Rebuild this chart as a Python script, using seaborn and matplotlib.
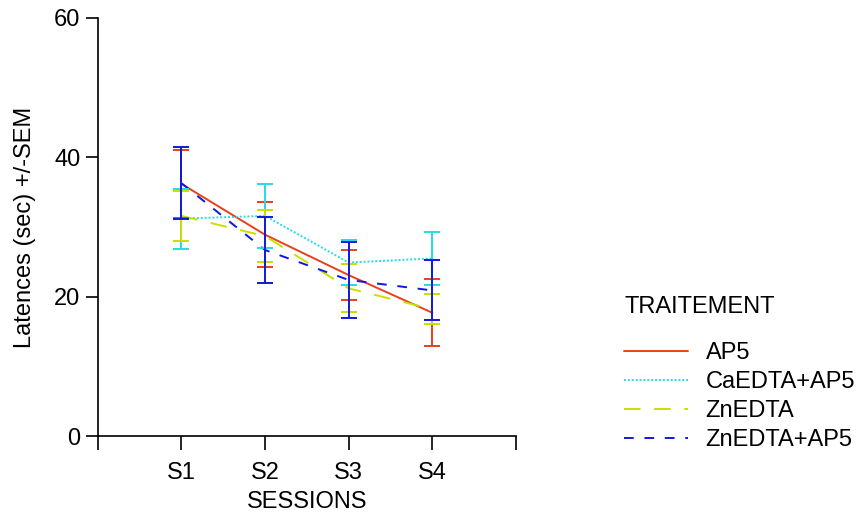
import matplotlib
matplotlib.use("Agg")
import matplotlib.pyplot as plt
import seaborn as sns
import pandas as pd
from matplotlib.lines import Line2D

sessions = ["S1", "S2", "S3", "S4"]
session_pos = [1, 2, 3, 4]
groups = ["AP5", "CaEDTA+AP5", "ZnEDTA", "ZnEDTA+AP5"]

mean_ap5 = [36.2, 28.9, 23.1, 17.7]
sem_ap5 = [4.9, 4.7, 3.6, 4.8]
mean_caedta = [31.2, 31.6, 24.9, 25.5]
sem_caedta = [4.3, 4.6, 3.2, 3.85]
mean_znedta = [31.6, 28.7, 21.2, 18.2]
sem_znedta = [3.6, 3.7, 3.45, 2.15]
mean_znap5 = [36.3, 26.7, 22.4, 20.9]
sem_znap5 = [5.2, 4.7, 5.5, 4.3]

means = [mean_ap5, mean_caedta, mean_znedta, mean_znap5]
sems = [sem_ap5, sem_caedta, sem_znedta, sem_znap5]

colors = ["#E8401A", "#22DDE8", "#C8E000", "#1018E0"]
dashes = [(None, None), (1.0, 1.0), (8.5, 7.0), (5.0, 5.5)]

rows = []
for g, m in zip(groups, means):
    for p, v in zip(session_pos, m):
        rows.append({"TRAITEMENT": g, "session": p, "latence": v})
df = pd.DataFrame(rows)

sns.set_theme(style="ticks")
plt.rcParams["font.family"] = ["Liberation Sans", "DejaVu Sans"]
plt.rcParams["text.color"] = "black"
plt.rcParams["axes.labelcolor"] = "black"
plt.rcParams["xtick.color"] = "black"
plt.rcParams["ytick.color"] = "black"
FS = 17

fig = plt.figure(figsize=(8.65, 5.21), dpi=100)
ax = fig.add_axes([0.113, 0.163, 0.4835, 0.8025])

lw = 1.4
for g, m, s, c, d in zip(groups, means, sems, colors, dashes):
    sub = df[df["TRAITEMENT"] == g]
    sns.lineplot(data=sub, x="session", y="latence", ax=ax, color=c,
                 linewidth=lw, legend=False, errorbar=None)
    ln = ax.lines[-1]
    if d[0] is not None:
        ln.set_dashes(d)
for g, m, s, c in zip(groups, means, sems, colors):
    ax.errorbar(session_pos, m, yerr=s, fmt="none", ecolor=c, elinewidth=lw,
                capsize=5.5, capthick=lw, zorder=3)

ax.set_xlim(0, 5)
ax.set_ylim(0, 60)
ax.set_xticks([0, 1, 2, 3, 4, 5])
ax.set_xticklabels([""] + sessions + [""])
ax.set_yticks([0, 20, 40, 60])
ax.tick_params(axis="both", direction="out", width=1.2,
               labelsize=FS, colors="black", labelcolor="black")
ax.tick_params(axis="y", length=8.5, pad=4)
ax.tick_params(axis="x", length=10, pad=9)
for sp in ["top", "right"]:
    ax.spines[sp].set_visible(False)
for sp in ["left", "bottom"]:
    ax.spines[sp].set_linewidth(1.2)
    ax.spines[sp].set_color("black")
ax.set_xlabel("SESSIONS", fontsize=FS, labelpad=5, color="black")
ax.set_ylabel("Latences (sec) +/-SEM", fontsize=FS, labelpad=13, color="black")
ax.set_facecolor("white")

handles = []
for g, c, d in zip(groups, colors, dashes):
    h = Line2D([], [], color=c, linewidth=lw)
    if d[0] is not None:
        h.set_dashes(d)
    handles.append(h)
leg = fig.legend(handles, groups, title="TRAITEMENT", frameon=False,
                 loc="upper left", bbox_to_anchor=(0.697, 0.472),
                 fontsize=FS, title_fontsize=FS, handlelength=2.7,
                 handletextpad=0.75, labelspacing=0.3, alignment="left",
                 labelcolor="black")
leg.get_title().set_color("black")
leg._legend_box.sep = 17

fig.savefig("out.png", dpi=100, facecolor="white")
